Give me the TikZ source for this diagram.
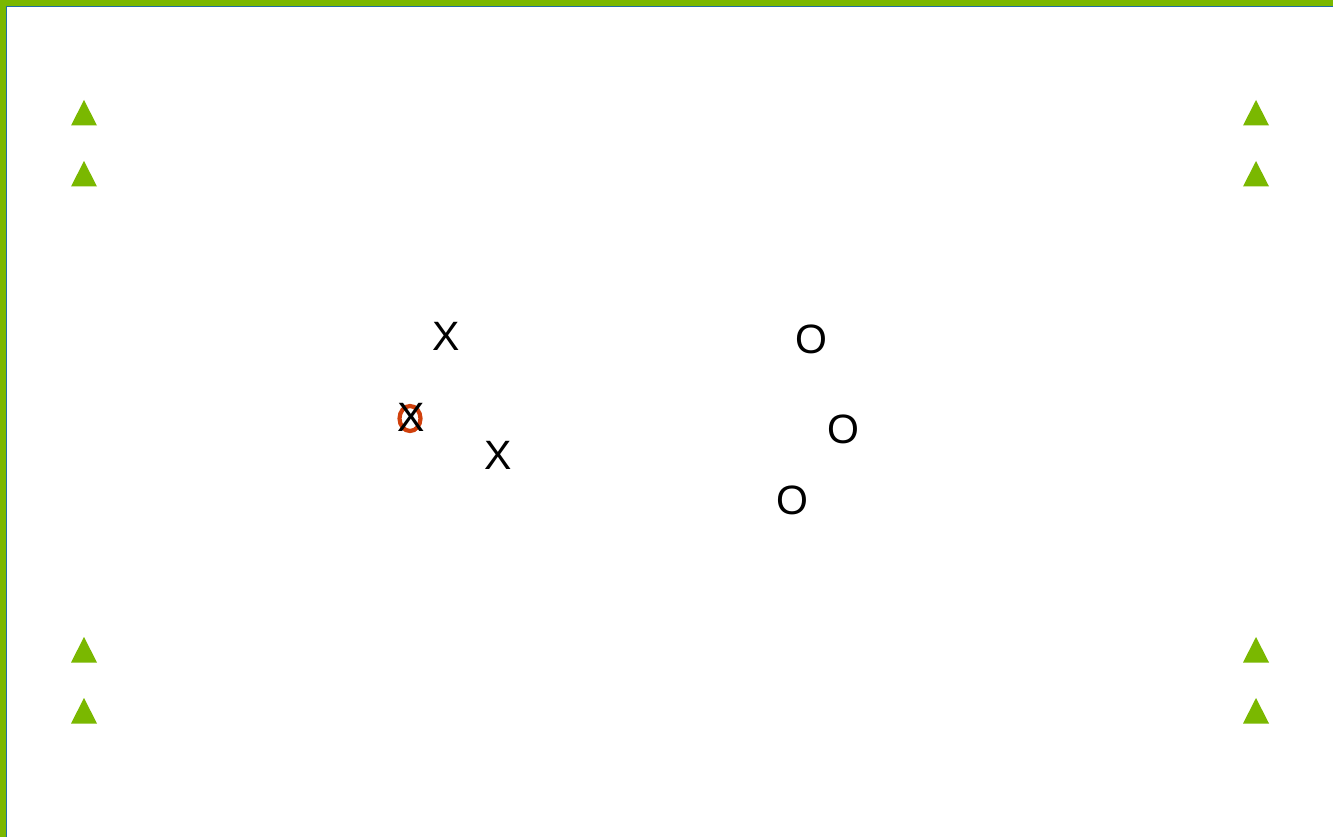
\documentclass[tikz,border=0pt]{standalone}
\usepackage{fontspec}
\setmainfont{Liberation Sans}
\usepackage{xcolor}
\usepackage{tikz}
\definecolor{turf}{HTML}{7AB800}
\definecolor{edge}{HTML}{1E6FA5}
\definecolor{balls}{HTML}{D0400C}

\begin{document}
\begin{tikzpicture}[
  x=1pt, y=-1pt,
  font=\fontsize{41}{41}\selectfont,
  player/.style={inner sep=0pt, text=black},
  ball/.style={draw=balls, line width=4.2pt},
  cone/.style={fill=turf, draw=none}
]
\useasboundingbox (0,0) rectangle (1333,837);
\clip (0,0) rectangle (1333,837);
\fill[white] (0,0) rectangle (1333,837);
% pitch edge, only top and left show
\fill[turf] (0,0) rectangle (1400,6);
\fill[turf] (0,0) rectangle (6,900);
\draw[edge, line width=1pt] (6.5,900) -- (6.5,6.5) -- (1400,6.5);

% cones
\foreach \cx in {84,1256}
  \foreach \cy in {100,161,637,698}
    \fill[cone] (\cx,\cy) -- ++(13,25.5) -- ++(-26,0) -- cycle;

% ball under the first attacker
\coordinate (bl) at (410,418.5);
\draw[ball] (bl) ellipse [x radius=10.5, y radius=12.5];

% attackers
\node[player] (x1) at (446.5,336.5) {X};
\node[player] (x2) at (411,417.5)  {X};
\node[player] (x3) at (498,455.5)  {X};

% defenders
\node[player] (o1) at (811,339.5)  {O};
\node[player] (o2) at (843.5,429)  {O};
\node[player] (o3) at (792,500.5)  {O};
\end{tikzpicture}
\end{document}
